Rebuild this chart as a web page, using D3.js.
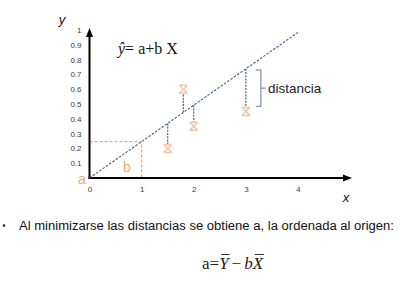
<!DOCTYPE html>
<html><head><meta charset="utf-8">
<script src="https://cdn.jsdelivr.net/npm/d3@7"></script>
<style>html,body{margin:0;padding:0;background:#fff;}svg{display:block;}</style>
</head><body>
<svg id="c" width="405" height="289"></svg>
<script>
const xTicks = [0, 1, 2, 3, 4];
const yTicks = [0.1, 0.2, 0.3, 0.4, 0.5, 0.6, 0.7, 0.8, 0.9, 1];
const yTickLabels = ["0.1","0.2","0.3","0.4","0.5","0.6","0.7","0.8","0.9","1"];
const pointX = [1.5, 1.8, 2, 3];
const pointY = [0.2, 0.6, 0.35, 0.45];
const intercept = 0;
const slope = 0.246;
const guideX = 1;
const lineRange = [0, 4];
const braceIndex = 3;

const svg = d3.select("#c");
const x = d3.scaleLinear().domain([0, 4]).range([89.5, 298]);
const y = d3.scaleLinear().domain([0, 1]).range([178, 30]);
const fit = v => intercept + slope * v;

const orange = "#f0a772";
const blue = "#3f5f8f";

const gx = svg.append("g").attr("transform", `translate(0,${y(0)})`)
  .call(d3.axisBottom(x).tickValues(xTicks).tickSize(0).tickPadding(8).tickFormat(d3.format("d")));
gx.select(".domain").remove();
gx.selectAll("text").attr("font-family", "Liberation Sans, Arial, sans-serif").attr("font-size", 8).attr("fill", "#404040");

const gy = svg.append("g").attr("transform", `translate(${x(0) - 8},0)`)
  .call(d3.axisLeft(y).tickValues(yTicks).tickSize(0).tickPadding(0).tickFormat((d, i) => yTickLabels[i]));
gy.select(".domain").remove();
gy.selectAll("text").attr("font-family", "Liberation Sans, Arial, sans-serif").attr("font-size", 8).attr("fill", "#404040");

svg.append("path")
  .attr("d", `M${x(0)},${y(fit(guideX))}H${x(guideX)}V${y(0)}`)
  .attr("fill", "none").attr("stroke", orange).attr("stroke-width", 1.3).attr("stroke-dasharray", "3,2");

const x0 = x(0), y0 = y(0);
svg.append("line").attr("x1", x0).attr("y1", y0 + 1).attr("x2", x0).attr("y2", 36)
  .attr("stroke", "#000").attr("stroke-width", 2);
svg.append("path").attr("d", `M${x0},28 L${x0 - 3.5},37 L${x0 + 3.5},37 Z`).attr("fill", "#000");
svg.append("line").attr("x1", x0 - 1).attr("y1", y0).attr("x2", 344).attr("y2", y0)
  .attr("stroke", "#000").attr("stroke-width", 2);
svg.append("path").attr("d", `M352,${y0} L343,${y0 - 3.5} L343,${y0 + 3.5} Z`).attr("fill", "#000");

svg.append("line")
  .attr("x1", x(lineRange[0])).attr("y1", y(fit(lineRange[0])))
  .attr("x2", x(lineRange[1])).attr("y2", y(fit(lineRange[1])))
  .attr("stroke", blue).attr("stroke-width", 1.1).attr("stroke-dasharray", "2.5,1.5");

pointX.forEach((px, i) => {
  const yl = y(fit(px)), yp = y(pointY[i]);
  const dir = yp > yl ? 1 : -1;
  svg.append("line").attr("x1", x(px)).attr("x2", x(px))
    .attr("y1", yl).attr("y2", yp - dir * 4)
    .attr("stroke", blue).attr("stroke-width", 1.2).attr("stroke-dasharray", "2,1.2");
});

svg.selectAll(".pt").data(pointX).enter().append("path")
  .attr("transform", (d, i) => `translate(${x(d)},${y(pointY[i])})`)
  .attr("d", "M-4,-4H4M-4,4H4M-4,-4L4,4M4,-4L-4,4")
  .attr("fill", "none").attr("stroke", "#f6c7a6").attr("stroke-width", 1.5);

const bx = x(pointX[braceIndex]) + 10;
const bTop = y(fit(pointX[braceIndex])) + 1, bBot = y(pointY[braceIndex]) - 5;
const bMid = (bTop + bBot) / 2;
svg.append("path")
  .attr("d", `M${bx},${bTop}H${bx + 5}V${bBot}H${bx}M${bx + 5},${bMid}H${bx + 10}`)
  .attr("fill", "none").attr("stroke", "#8497b0").attr("stroke-width", 1.3);
svg.append("text").attr("x", bx + 12).attr("y", bMid + 4.5)
  .attr("font-family", "Liberation Sans, Arial, sans-serif").attr("font-size", 13.5).attr("fill", "#222")
  .text("distancia");

svg.append("text").attr("x", 82).attr("y", 183.5).attr("text-anchor", "middle")
  .attr("font-family", "Liberation Sans, Arial, sans-serif").attr("font-size", 14).attr("fill", orange).text("a");
svg.append("text").attr("x", 127).attr("y", 172).attr("text-anchor", "middle")
  .attr("font-family", "Liberation Sans, Arial, sans-serif").attr("font-size", 14).attr("fill", orange).text("b");

svg.append("text").attr("x", 62).attr("y", 24).attr("text-anchor", "middle")
  .attr("font-family", "Liberation Sans, Arial, sans-serif").attr("font-style", "italic").attr("font-size", 13).attr("fill", "#111").text("y");
svg.append("text").attr("x", 346).attr("y", 202).attr("text-anchor", "middle")
  .attr("font-family", "Liberation Sans, Arial, sans-serif").attr("font-style", "italic").attr("font-size", 13).attr("fill", "#111").text("x");

const eq = svg.append("text").attr("x", 118).attr("y", 54)
  .attr("font-family", "Liberation Serif, Times New Roman, serif").attr("font-size", 16).attr("fill", "#111");
eq.append("tspan").attr("font-style", "italic").text("ŷ");
eq.append("tspan").text("= a+b X");

svg.append("circle").attr("cx", 4).attr("cy", 225.5).attr("r", 1.3).attr("fill", "#222");
svg.append("text").attr("x", 19).attr("y", 229.5)
  .attr("font-family", "Liberation Sans, Arial, sans-serif").attr("font-size", 12).attr("fill", "#111")
  .attr("textLength", 375).attr("lengthAdjust", "spacingAndGlyphs")
  .text("Al minimizarse las distancias se obtiene a, la ordenada al origen:");

const parts = [
  {t: "a=", it: false, bar: false, gap: 0},
  {t: "Y", it: true, bar: true, gap: 0},
  {t: "−", it: false, bar: false, gap: 3},
  {t: "b", it: true, bar: false, gap: 3},
  {t: "X", it: true, bar: true, gap: 0}
];
let cx = 202;
const fb = 268.5;
parts.forEach(p => {
  cx += p.gap;
  const t = svg.append("text").attr("x", cx).attr("y", fb)
    .attr("font-family", "Liberation Serif, Times New Roman, serif").attr("font-size", 17).attr("fill", "#222")
    .attr("font-style", p.it ? "italic" : "normal").text(p.t);
  const w = t.node().getComputedTextLength();
  if (p.bar) {
    svg.append("line").attr("x1", cx + 2).attr("x2", cx + w + 1).attr("y1", fb - 14).attr("y2", fb - 14)
      .attr("stroke", "#222").attr("stroke-width", 0.9);
  }
  cx += w;
});
</script>
</body></html>
